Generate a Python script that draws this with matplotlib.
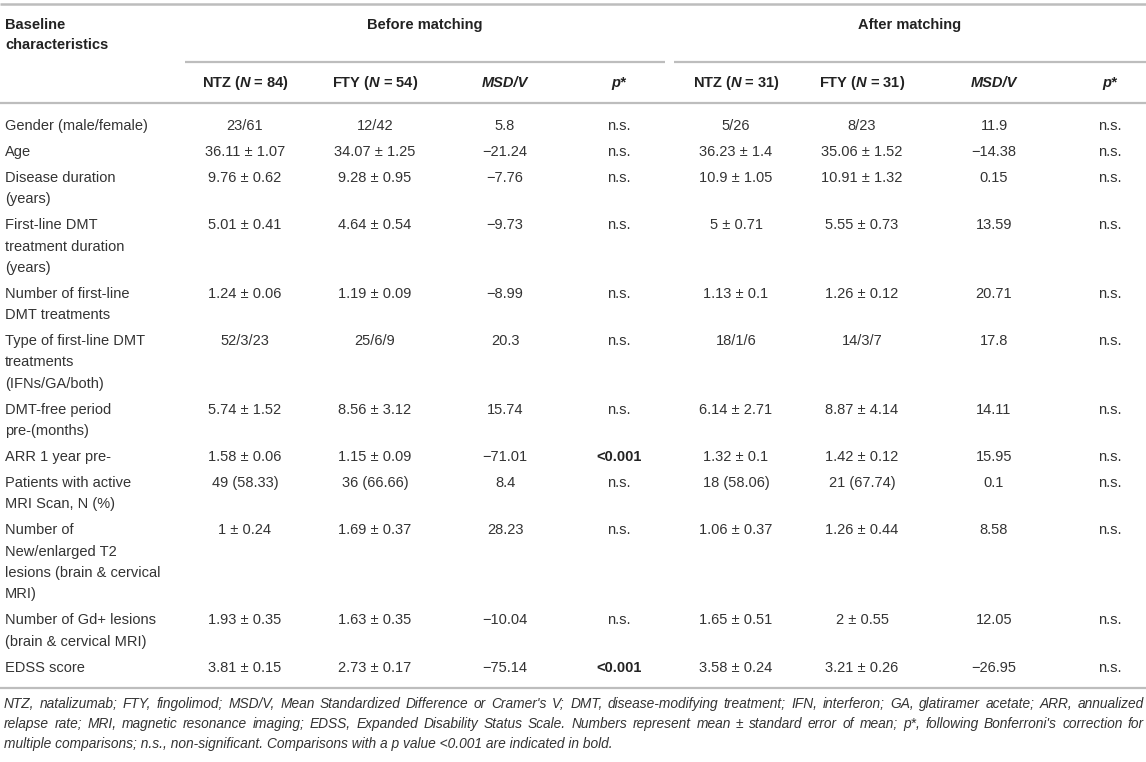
import matplotlib
matplotlib.use("Agg")
from matplotlib import pyplot as plt
from matplotlib import font_manager

plt.rcParams["font.family"] = ["Liberation Sans", "DejaVu Sans"]
plt.rcParams["mathtext.fontset"] = "custom"
plt.rcParams["mathtext.rm"] = "Liberation Sans:bold"
plt.rcParams["mathtext.bfit"] = "Liberation Sans:italic:bold"
plt.rcParams["mathtext.it"] = "Liberation Sans:italic"

# ---- table content ----
row_labels = [
    "Gender (male/female)",
    "Age",
    "Disease duration\n(years)",
    "First-line DMT\ntreatment duration\n(years)",
    "Number of first-line\nDMT treatments",
    "Type of first-line DMT\ntreatments\n(IFNs/GA/both)",
    "DMT-free period\npre-(months)",
    "ARR 1 year pre-",
    "Patients with active\nMRI Scan, N (%)",
    "Number of\nNew/enlarged T2\nlesions (brain & cervical\nMRI)",
    "Number of Gd+ lesions\n(brain & cervical MRI)",
    "EDSS score",
]
ntz_before = ["23/61", "36.11 ± 1.07", "9.76 ± 0.62", "5.01 ± 0.41", "1.24 ± 0.06",
              "52/3/23", "5.74 ± 1.52", "1.58 ± 0.06", "49 (58.33)", "1 ± 0.24",
              "1.93 ± 0.35", "3.81 ± 0.15"]
fty_before = ["12/42", "34.07 ± 1.25", "9.28 ± 0.95", "4.64 ± 0.54", "1.19 ± 0.09",
              "25/6/9", "8.56 ± 3.12", "1.15 ± 0.09", "36 (66.66)", "1.69 ± 0.37",
              "1.63 ± 0.35", "2.73 ± 0.17"]
msd_before = ["5.8", "−21.24", "−7.76", "−9.73", "−8.99", "20.3", "15.74", "−71.01",
              "8.4", "28.23", "−10.04", "−75.14"]
p_before = ["n.s.", "n.s.", "n.s.", "n.s.", "n.s.", "n.s.", "n.s.", "<0.001",
            "n.s.", "n.s.", "n.s.", "<0.001"]
ntz_after = ["5/26", "36.23 ± 1.4", "10.9 ± 1.05", "5 ± 0.71", "1.13 ± 0.1",
             "18/1/6", "6.14 ± 2.71", "1.32 ± 0.1", "18 (58.06)", "1.06 ± 0.37",
             "1.65 ± 0.51", "3.58 ± 0.24"]
fty_after = ["8/23", "35.06 ± 1.52", "10.91 ± 1.32", "5.55 ± 0.73", "1.26 ± 0.12",
             "14/3/7", "8.87 ± 4.14", "1.42 ± 0.12", "21 (67.74)", "1.26 ± 0.44",
             "2 ± 0.55", "3.21 ± 0.26"]
msd_after = ["11.9", "−14.38", "0.15", "13.59", "20.71", "17.8", "14.11", "15.95",
             "0.1", "8.58", "12.05", "−26.95"]
p_after = ["n.s."] * 12

col_headers = [r"NTZ ($\mathbfit{N}$ = 84)", r"FTY ($\mathbfit{N}$ = 54)", "MSD/V", "p*",
               r"NTZ ($\mathbfit{N}$ = 31)", r"FTY ($\mathbfit{N}$ = 31)", "MSD/V", "p*"]
group_headers = ["Before matching", "After matching"]
corner_header = ["Baseline", "characteristics"]

footnote = [
    "NTZ, natalizumab; FTY, fingolimod; MSD/V, Mean Standardized Difference or Cramer's V; "
    "DMT, disease-modifying treatment; IFN, interferon; GA, glatiramer acetate; ARR, annualized",
    "relapse rate; MRI, magnetic resonance imaging; EDSS, Expanded Disability Status Scale. "
    "Numbers represent mean ± standard error of mean; p*, following Bonferroni's correction for",
    "multiple comparisons; n.s., non-significant. Comparisons with a p value <0.001 are indicated in bold.",
]

# ---- layout (pixels) ----
W, H = 1146, 762
col_x = [245, 375, 505, 619, 736, 862, 994, 1110]
fs = 10.5
body_color = "#333333"
head_color = "#222222"
line_color = "#bdbdbd"
line_step = 21.3
row_gap = 26.0

# footnote font: a narrow face if one is installed
foot_family = ["Liberation Sans", "DejaVu Sans"]
try:
    font_manager.findfont(font_manager.FontProperties(family="Liberation Sans Narrow"),
                          fallback_to_default=False)
    foot_family = ["Liberation Sans Narrow", "Liberation Sans", "DejaVu Sans"]
except ValueError:
    pass

fig = plt.figure(figsize=(W / 100, H / 100), dpi=100)
ax = fig.add_axes([0, 0, 1, 1])
ax.set_xlim(0, W)
ax.set_ylim(H, 0)
ax.axis("off")

def hline(y, x0, x1, lw=1.6):
    ax.plot([x0, x1], [y, y], color=line_color, lw=lw, solid_capstyle="butt")

hline(4, 0, W, lw=1.8)
hline(62, 185, 665)
hline(62, 674, W)
hline(103, 0, W)

# header
for k, ln in enumerate(corner_header):
    ax.text(5, 29 + k * 20, ln, fontsize=fs, fontweight="bold",
            color=head_color, va="baseline", ha="left")
ax.text(425, 29, group_headers[0], fontsize=fs, fontweight="bold", color=head_color,
        ha="center", va="baseline")
ax.text(910, 29, group_headers[1], fontsize=fs, fontweight="bold", color=head_color,
        ha="center", va="baseline")
for x, h in zip(col_x, col_headers):
    if "$" in h:
        ax.text(x, 87, h, fontsize=fs, fontweight="bold", color=head_color,
                ha="center", va="baseline")
    else:
        ax.text(x, 87, h, fontsize=fs, fontweight="bold", style="italic",
                color=head_color, ha="center", va="baseline")

# body
columns = [ntz_before, fty_before, msd_before, p_before,
           ntz_after, fty_after, msd_after, p_after]
y = 130
for i, label in enumerate(row_labels):
    lines = label.split("\n")
    for k, ln in enumerate(lines):
        ax.text(5, y + k * line_step, ln, fontsize=fs, color=body_color,
                ha="left", va="baseline")
    for x, col in zip(col_x, columns):
        val = col[i]
        bold = val.startswith("<")
        ax.text(x, y, val, fontsize=fs, color=head_color if bold else body_color,
                fontweight="bold" if bold else "normal", ha="center", va="baseline")
    y += (len(lines) - 1) * line_step + row_gap

hline(688, 0, W)

# footnote: first two lines justified to the full width
fig.canvas.draw()
renderer = fig.canvas.get_renderer()

def text_width(s, size):
    t = ax.text(0, 0, s, fontsize=size, style="italic", family=foot_family)
    w = t.get_window_extent(renderer).width
    t.remove()
    return w

fs_foot = min(11.5, fs * 1120 / text_width(footnote[0], fs))
fy = 708
for n, ln in enumerate(footnote):
    words = ln.split(" ")
    if n < len(footnote) - 1:
        widths = [text_width(wd, fs_foot) for wd in words]
        gap = (W - 6 - sum(widths)) / (len(words) - 1)
        x = 4
        for wd, wdw in zip(words, widths):
            ax.text(x, fy, wd, fontsize=fs_foot, style="italic", color=body_color,
                    family=foot_family, ha="left", va="baseline")
            x += wdw + gap
    else:
        ax.text(4, fy, ln, fontsize=fs_foot, style="italic", color=body_color,
                family=foot_family, ha="left", va="baseline")
    fy += 20

fig.savefig("out.png", dpi=100)
